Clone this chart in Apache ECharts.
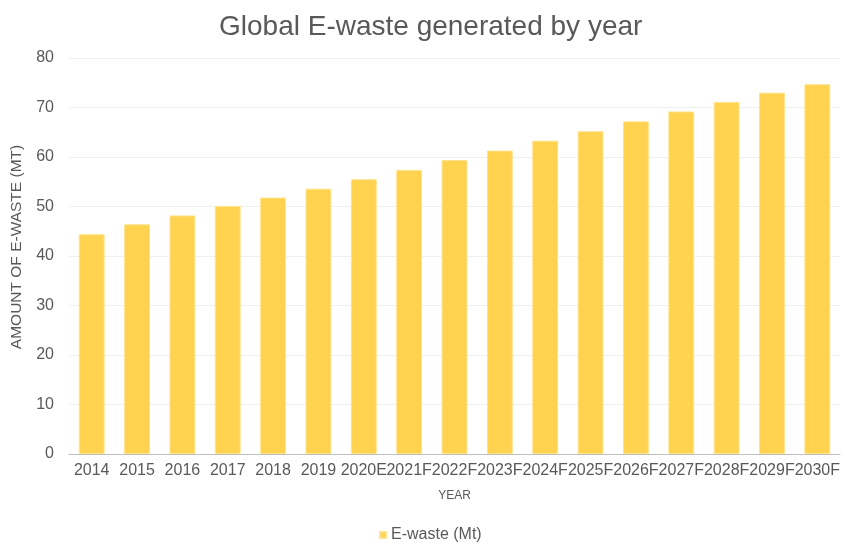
<!DOCTYPE html>
<html>
<head>
<meta charset="utf-8">
<script src="https://cdn.jsdelivr.net/npm/echarts@6/dist/echarts.min.js"></script>
<style>html,body{margin:0;padding:0;background:#fff;}#chart{width:845px;height:545px;}</style>
</head>
<body>
<div id="chart"></div>
<script>
const categories = ['2014','2015','2016','2017','2018','2019','2020E','2021F','2022F','2023F','2024F','2025F','2026F','2027F','2028F','2029F','2030F'];
const ewaste = [44.4, 46.4, 48.2, 50.1, 51.8, 53.6, 55.5, 57.4, 59.4, 61.3, 63.3, 65.2, 67.2, 69.2, 71.1, 73.0, 74.7];
const yTicks = [0, 10, 20, 30, 40, 50, 60, 70, 80];

const chart = echarts.init(document.getElementById('chart'));
chart.setOption({
  animation: false,
  textStyle: { fontFamily: 'Liberation Sans, Arial, sans-serif' },
  title: {
    text: 'Global E-waste generated by year',
    left: 214, top: 8,
    textStyle: { fontSize: 28, fontWeight: 'normal', color: '#595959', fontFamily: 'Liberation Sans, Arial, sans-serif' }
  },
  legend: {
    top: 522, left: 374,
    icon: 'rect', itemWidth: 6, itemHeight: 6, itemGap: 4,
    textStyle: { fontSize: 16, color: '#595959' },
    data: ['E-waste (Mt)']
  },
  grid: { left: 69, right: 5, top: 58, bottom: 91, outerBoundsMode: 'none', containLabel: false },
  xAxis: {
    type: 'category', data: categories,
    name: 'YEAR', nameLocation: 'middle', nameGap: 36,
    nameTextStyle: { fontSize: 12, color: '#595959' },
    axisLine: { lineStyle: { color: '#bfbfbf', width: 1 } },
    axisTick: { show: false },
    axisLabel: { interval: 0, fontSize: 16, color: '#595959', margin: 9 }
  },
  yAxis: {
    type: 'value', min: yTicks[0], max: yTicks[yTicks.length - 1], interval: 10,
    name: 'AMOUNT OF E-WASTE (MT)', nameLocation: 'middle', nameGap: 44,
    nameTextStyle: { fontSize: 15.5, color: '#595959', padding: [0, 0, 0, 18] },
    axisLine: { show: false }, axisTick: { show: false },
    axisLabel: { fontSize: 16, color: '#595959', margin: 15 },
    splitLine: { lineStyle: { color: '#efefef' } }
  },
  series: [{
    name: 'E-waste (Mt)', type: 'bar', data: ewaste,
    barCategoryGap: '43%',
    itemStyle: { color: '#FFD34F', borderColor: '#FFE38C', borderWidth: 1 }
  }]
});
</script>
</body>
</html>
